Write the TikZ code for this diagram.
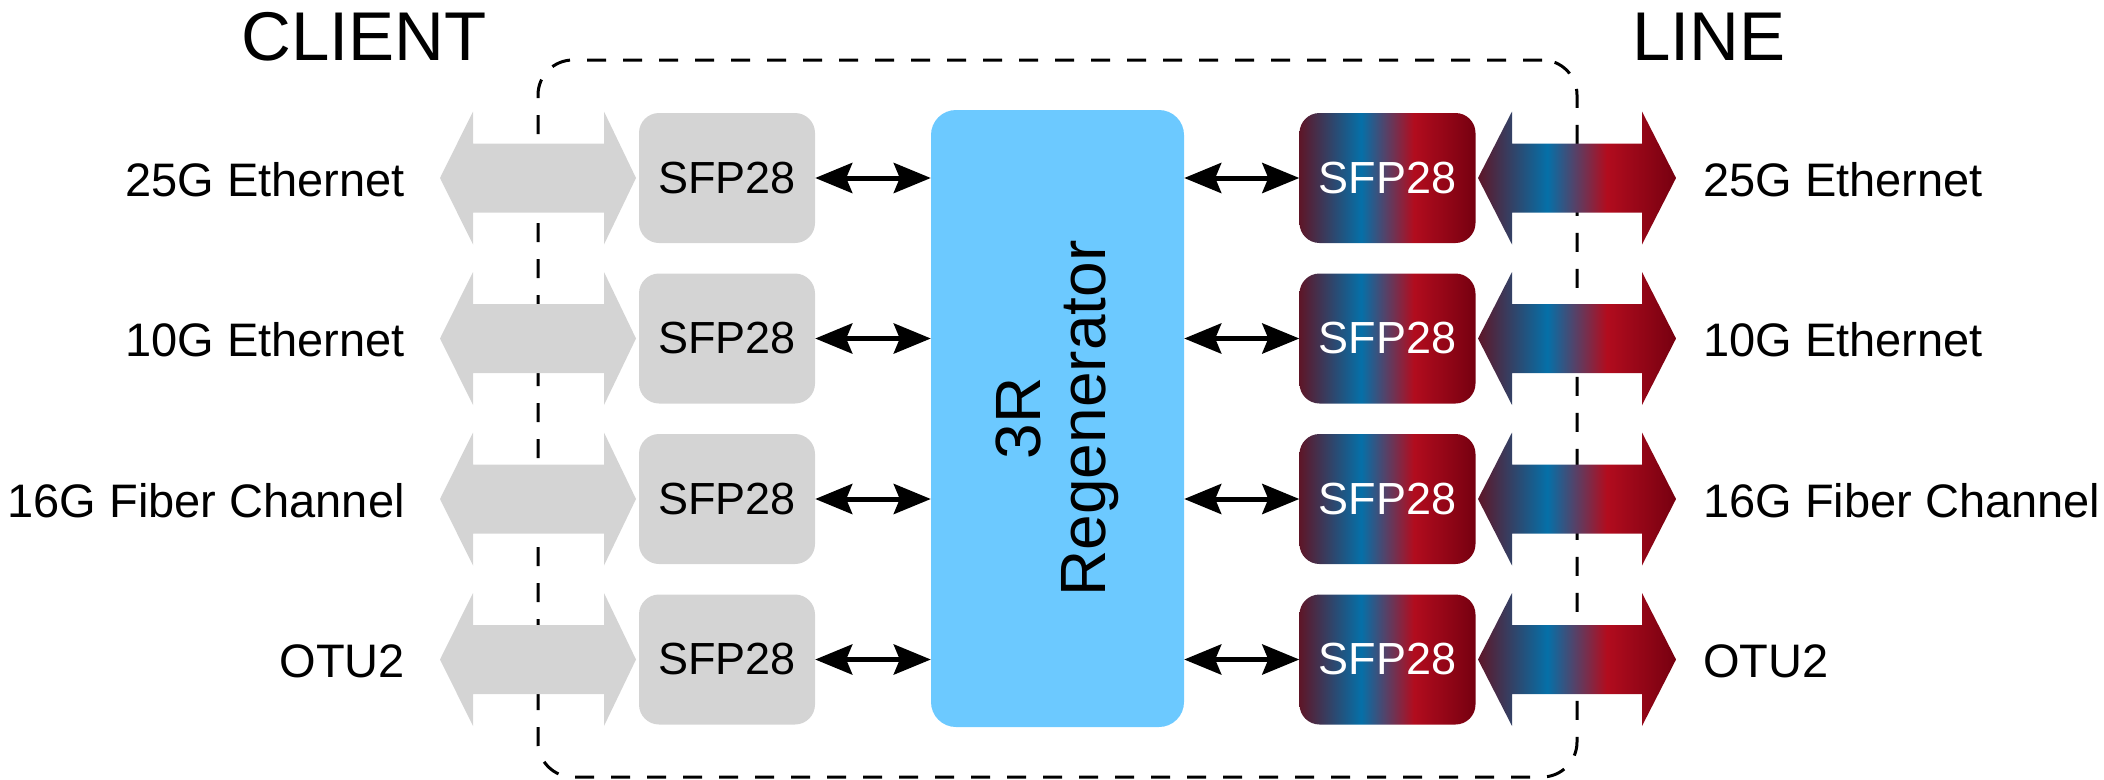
\documentclass[tikz,border=0pt]{standalone}
\usepackage{fontspec}
\setmainfont{Liberation Sans}
\usetikzlibrary{arrows.meta}
\definecolor{cGrey}{HTML}{D4D4D4}
\definecolor{cBlue}{HTML}{6CC9FF}
\definecolor{gA}{HTML}{5E1628}
\definecolor{gB}{HTML}{0570A8}
\definecolor{gD}{HTML}{B20C1E}
\definecolor{gE}{HTML}{760010}
\pgfdeclarehorizontalshading{sfpgrad}{100bp}{color(0bp)=(gA); color(25bp)=(gA); color(42.5bp)=(gB); color(57.5bp)=(gD); color(75bp)=(gE); color(100bp)=(gE)}
\begin{document}
\begin{tikzpicture}[x=1pt,y=-1pt,
  sfpbase/.style={rectangle, rounded corners=20pt, minimum width=176pt, minimum height=130pt, inner sep=0pt, font=\fontsize{45}{54}\selectfont},
  sfpgreybox/.style={sfpbase, fill=cGrey, text=black},
  sfpcolbox/.style={sfpbase, shade, shading=sfpgrad, text=white},
  regenbox/.style={rectangle, rounded corners=25pt, fill=cBlue, minimum width=253pt, minimum height=617pt, inner sep=0pt},
  container/.style={rectangle, draw=black, line width=3pt, dash pattern=on 19pt off 17pt, rounded corners=35pt, minimum width=1039pt, minimum height=717pt, inner sep=0pt},
  lab/.style={font=\fontsize{47}{57}\selectfont, inner sep=0pt},
  title/.style={font=\fontsize{69}{80}\selectfont, inner sep=0pt},
  conn/.style={line width=5pt, {Stealth[length=37pt,width=30pt,inset=6pt]}-{Stealth[length=37pt,width=30pt,inset=6pt]}}
]
\useasboundingbox (0,0) rectangle (2104,779);
\node[container] (box) at (1057.5,418.5) {};
\node[title, anchor=base] (client) at (364,60) {CLIENT};
\node[title, anchor=base] (line) at (1709,60) {LINE};
\node[regenbox] (regen) at (1057.5,418.5) {};
\node[rotate=90, align=center, inner sep=0pt, font=\fontsize{64}{65}\selectfont] (regtext) at (regen.center) {3R\\Regenerator};
\foreach \i/\lab in {0/25G Ethernet, 1/10G Ethernet, 2/16G Fiber Channel, 3/OTU2} {
  \pgfmathsetmacro\y{178+160.5*\i}
  % grey client arrow
  \fill[cGrey] (440,\y) -- (473,\y-66.5) -- (473,\y-34.5) -- (604,\y-34.5) -- (604,\y-66.5) -- (636,\y)
     -- (604,\y+66.5) -- (604,\y+34.5) -- (473,\y+34.5) -- (473,\y+66.5) -- cycle;
  % gradient line arrow
  \shade[shading=sfpgrad] (1478,\y) -- (1512,\y-66.5) -- (1512,\y-34.5) -- (1642,\y-34.5) -- (1642,\y-66.5) -- (1676,\y)
     -- (1642,\y+66.5) -- (1642,\y+34.5) -- (1512,\y+34.5) -- (1512,\y+66.5) -- cycle;
  \node[sfpgreybox] (sfpL\i) at (727,\y) {SFP28};
  \node[sfpcolbox] (sfpR\i) at (1387.5,\y) {SFP28};
  \node[lab, anchor=base east] (labL\i) at (405,\y+18) {\lab};
  \node[lab, anchor=base west] (labR\i) at (1703,\y+18) {\lab};
  \draw[conn] (sfpL\i.east) -- (sfpL\i.east -| regen.west);
  \draw[conn] (regen.east |- sfpR\i.west) -- (sfpR\i.west);
}
\end{tikzpicture}
\end{document}
